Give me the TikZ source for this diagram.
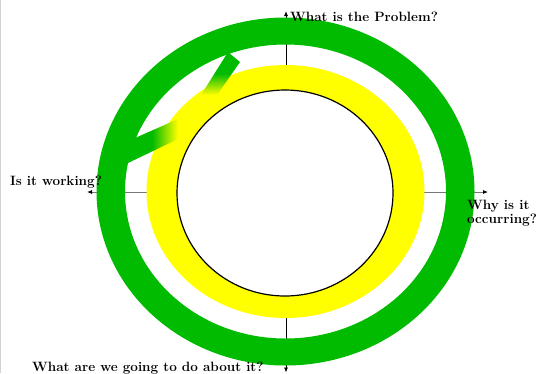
\documentclass[tikz,border=0pt]{standalone}
\usepackage{tikz}
\usetikzlibrary{arrows.meta,positioning}
\definecolor{ringgreen}{RGB}{0,187,0}
\definecolor{ringyellow}{RGB}{255,255,0}
\definecolor{axisgray}{RGB}{120,120,120}

\begin{document}
\begin{tikzpicture}[
  x=1pt, y=-1pt,
  qlabel/.style = {font=\fontsize{13.5}{14}\selectfont\bfseries, inner sep=0pt, align=left},
  axis/.style = {line width=0.8pt, {Latex[length=5pt,width=4pt,black]}-{Latex[length=5pt,width=4pt,black]}}
]
  \useasboundingbox (0,0) rectangle (543,373);
  \draw[gray!35] (0.5,0) -- (0.5,373);

  \coordinate (c)   at (285.5,191.5);
  \coordinate (top) at (286,11);
  \coordinate (bot) at (286,372.5);
  \coordinate (lft) at (87,192);
  \coordinate (rgt) at (488,192);

  \draw[axis, axisgray] (lft) -- (rgt);
  \draw[axis, black]    (top) -- (bot);

  % rings
  \fill[ringgreen, even odd rule] (c) ellipse (189 and 174) (c) ellipse (160.5 and 147);
  \fill[ringyellow] (c) ellipse (139 and 126.5);

  % broken pieces
  \shade[top color=ringgreen, bottom color=ringyellow, middle color=ringgreen]
    (228,52) -- (240,62) -- (217,95) -- (201,95) -- cycle;
  \shade[left color=ringgreen, right color=ringyellow, middle color=ringgreen]
    (126,142) -- (178,119) -- (178,139) -- (128,163) -- cycle;

  \filldraw[fill=white, draw=black, line width=1.2pt] (285,193) ellipse (108 and 103);

  \node[qlabel, anchor=base west]  (problem) at (290,21)  {What is the Problem?};
  \node[qlabel, anchor=base west]  (working) at (10,185)  {Is it working?};
  \node[qlabel, anchor=north west] (why)     at (467,200) {Why is it\\occurring?};
  \node[qlabel, anchor=base west]  (todo)    at (32,371)  {What are we going to do about it?};
\end{tikzpicture}
\end{document}
